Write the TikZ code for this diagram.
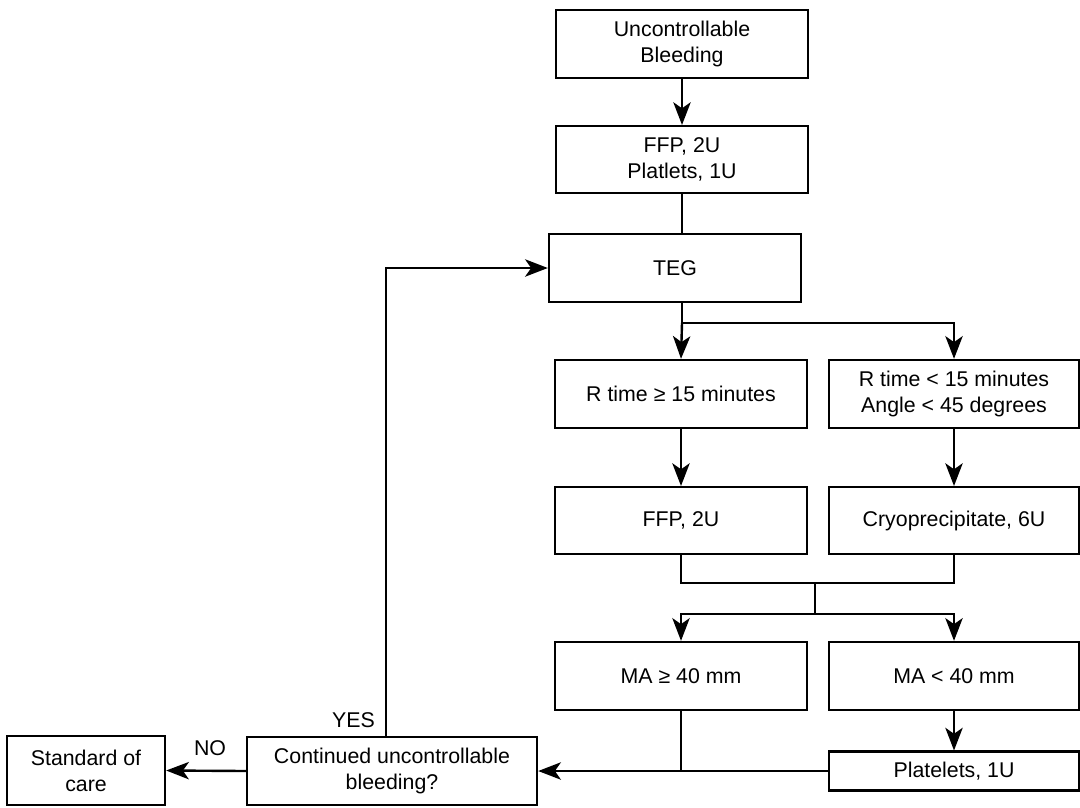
\documentclass[tikz,border=0pt]{standalone}
\usepackage{fontspec}
\setmainfont{Liberation Sans}
\usetikzlibrary{arrows.meta}
\begin{document}
\begin{tikzpicture}[x=0.75pt,y=-0.75pt,
  box/.style={draw, line width=1.8pt, align=center, inner sep=0pt,
    font=\fontsize{16}{19.5}\selectfont},
  conn/.style={line width=1.8pt},
  arr/.style={conn, -{Stealth[length=17pt,width=13pt,inset=4.5pt]}},
  lbl/.style={font=\fontsize{16}{19.5}\selectfont, inner sep=0pt}]
\useasboundingbox (0,0) rectangle (1080,807);

% main column
\node[box, minimum width=189pt, minimum height=51pt] (unc) at (682,44) {Uncontrollable\\Bleeding};
\node[box, minimum width=189pt, minimum height=50pt] (ffp1) at (682,159.5) {FFP, 2U\\Platlets, 1U};
\node[box, minimum width=189pt, minimum height=51pt] (teg) at (675,268) {TEG};

% two branches
\node[box, minimum width=189pt, minimum height=51pt] (rge) at (681,394) {R time ≥ 15 minutes};
\node[box, minimum width=187.5pt, minimum height=51pt] (rlt) at (954,394) {R time < 15 minutes\\Angle < 45 degrees};
\node[box, minimum width=189pt, minimum height=50pt] (ffp2) at (681,520.5) {FFP, 2U};
\node[box, minimum width=187.5pt, minimum height=50pt] (cryo) at (954,520.5) {Cryoprecipitate, 6U};
\node[box, minimum width=189pt, minimum height=51pt] (mage) at (681,676) {MA ≥ 40 mm};
\node[box, minimum width=187.5pt, minimum height=51pt] (malt) at (954,676) {MA < 40 mm};
\node[box, minimum width=187.5pt, minimum height=29pt] (plt) at (954,771) {Platelets, 1U};

% decision and exit
\node[box, minimum width=217.5pt, minimum height=51pt] (cont) at (392,771) {Continued uncontrollable\\bleeding?};
\node[box, minimum width=118.5pt, minimum height=51.5pt] (std) at (86,770.5) {Standard of\\care};

% junction points
\coordinate (forkA) at (682,323);
\coordinate (joinB) at (681,583);
\coordinate (midB) at (815,583);
\coordinate (forkB) at (815,614);
\coordinate (yesTop) at (386,268);

% connectors
\draw[arr] (unc) -- (ffp1);
\draw[conn] (ffp1.south) -- (ffp1.south |- teg.north);
\draw[conn] (forkA |- teg.south) -- (forkA);
\draw[arr] (forkA) -- (rge.north);
\draw[arr] (forkA) -| (rlt.north);
\draw[arr] (rge) -- (ffp2);
\draw[arr] (rlt) -- (cryo);
\draw[conn] (ffp2.south) |- (joinB) -| (cryo.south);
\draw[conn] (midB) -- (forkB);
\draw[arr] (forkB) -| (mage.north);
\draw[arr] (forkB) -| (malt.north);
\draw[arr] (malt) -- (plt);
\draw[arr] (plt.west) -- (cont.east);
\draw[conn] (mage.south) -- (mage.south |- plt.west);
\draw[arr] (cont.west) -- (std.east);
\draw[arr] (yesTop |- cont.north) -- (yesTop) -- (teg.west);

% labels
\node[lbl, anchor=south] (no) at (210,756) {NO};
\node[lbl, anchor=south east] (yes) at (375,728) {YES};
\end{tikzpicture}
\end{document}
